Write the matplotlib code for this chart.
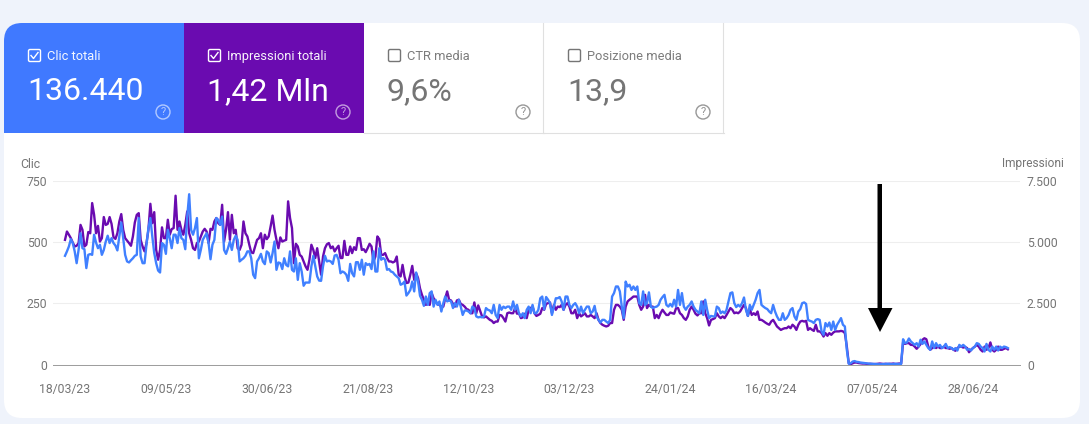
#! /usr/bin/env python
"""
Search Console performance chart: clicks and impressions per day.
"""

import matplotlib
matplotlib.use('Agg')
import matplotlib.pyplot as plt
import pandas as pd
from matplotlib.patches import FancyBboxPatch, Rectangle, Circle, Polygon

plt.rcParams['font.family'] = ['Roboto', 'DejaVu Sans']

# Values, one per day from the first date
first_date = '2023-03-18'

clicks = [
    443,461,481,511,495,461,413,467,535,474,470,393,447,450,447,529,497,474,488,447,
    467,501,525,495,515,495,485,465,522,579,515,447,420,416,425,433,443,447,597,440,
    413,413,488,556,597,522,454,413,383,375,495,488,451,549,515,474,529,529,495,556,
    515,508,470,603,694,549,529,556,597,433,467,508,522,535,495,429,488,508,597,590,
    569,603,467,451,474,501,467,508,525,508,420,427,433,443,461,461,433,366,352,420,
    433,451,420,409,461,454,416,454,501,386,416,413,389,433,406,400,461,386,379,433,
    345,413,379,321,334,334,334,400,443,400,359,342,341,400,443,420,423,420,410,444,
    447,427,372,379,375,366,341,410,372,359,417,417,
    386,427,366,413,406,410,389,461,379,379,474,427,434,427,386,389,379,376,366,359,
    352,325,329,338,281,291,304,338,298,375,338,280,264,239,277,243,291,298,236,264,243,
    257,216,250,277,257,261,257,230,250,236,264,236,202,220,220,216,209,236,230,196,
    192,194,192,196,230,223,220,209,243,202,189,243,223,236,230,236,236,223,257,223,243,
    209,196,209,189,223,236,209,243,209,209,223,270,277,225,275,264,250,202,236,270,270,
    275,257,223,277,277,243,230,243,250,236,209,236,209,223,236,236,209,216,239,196,
    182,171,182,182,175,169,182,277,291,318,318,298,236,189,338,318,325,304,318,304,318,
    250,243,298,243,250,294,236,230,234,236,243,264,275,284,243,236,247,236,264,236,304,
    243,291,236,223,236,243,257,236,223,216,209,257,202,264,223,189,198,196,196,236,230,
    209,216,209,223,257,291,294,250,234,243,236,250,273,223,198,243,223,243,264,291,
    304,243,236,230,226,216,209,243,216,196,182,182,209,182,189,202,223,230,196,182,216,
    226,250,253,247,182,178,175,169,182,185,182,135,121,169,155,171,141,175,141,162,175,
    189,162,155,60,3,5,12,14,11,10,8,
    7,6,5,4,3,3,2,2,1,1,1,2,2,3,2,1,2,3,2,2,2,
    103,87,90,106,94,87,80,87,73,101,84,94,80,67,60,94,67,87,73,80,
    67,73,84,67,71,67,60,67,57,80,73,80,73,60,63,57,67,73,87,84,
    73,67,53,84,60,53,73,60,73,57,73,67,73,71,67,
]

impressions = [
    5080,5420,5290,5150,4970,4810,4840,4950,5690,5490,4810,4880,5400,5350,6580,6100,5350,5650,5010,5150,
    6010,5690,5730,6010,5730,5190,5120,5350,5830,6130,5490,5150,5050,4950,4840,5220,5790,6100,6170,5080,
    4810,4610,4950,5490,6550,5760,6210,4670,4270,4670,5590,5150,5150,5900,5290,5520,5560,6880,5490,5830,
    5490,5290,5690,6240,5350,5080,4740,4670,4950,5010,5220,5420,5530,5420,4950,5530,5490,5830,5970,5760,
    5690,6510,5010,5490,6210,5080,6100,5350,5490,4740,4670,4880,5830,5350,5220,4880,4570,4540,4810,5080,
    5150,5350,4740,5290,5110,5220,5630,6070,5490,5080,4740,5180,5010,5050,5080,6650,5970,5560,4130,4920,
    4810,4470,4400,4200,4000,3860,4270,4880,4670,4340,4740,4200,3660,4400,4740,4900,4950,4740,4810,4610,
    4740,4840,4340,4340,5040,4470,4470,4810,4540,4780,4670,5150,
    5150,4670,4700,4580,4740,4920,4810,4200,4400,5220,5110,4470,4470,4540,4340,4200,4200,4160,4200,4400,
    3660,3590,4060,3590,3320,3340,3660,4020,3450,3720,3520,3100,2840,2640,2430,2500,2430,2910,2700,2570,2470,
    2430,2360,2360,2700,2980,2640,2610,2470,2360,2610,2640,2470,2430,2360,2260,2230,2090,2090,2530,2090,
    2410,2180,1960,1920,1960,1890,1820,1780,1690,1750,1750,2020,2000,1890,1750,2090,2120,2090,2090,2300,2070,
    2090,1890,1920,2070,1890,2230,2300,2360,2090,1980,2020,2070,2300,2230,2470,2500,2530,2090,2430,2230,2360,
    2340,2430,2230,2430,2500,2360,2090,2090,2230,1890,2090,1960,2020,2090,1960,1960,2020,1960,1890,2090,
    1820,1690,1620,1580,1550,1580,1690,1690,2230,2430,2430,2360,2230,1820,2360,2570,2640,2700,2770,2770,2770,
    2430,2230,2360,2840,2300,2430,2360,2360,1890,2020,1890,2090,2230,2120,2020,2020,2120,2090,2070,2300,2300,
    2090,2020,1890,1820,1960,2230,2360,2230,2070,2000,2090,2090,2570,2090,1890,1590,1820,1850,1890,2090,1960,
    1890,1960,1890,2020,2160,2300,2230,2090,2120,2090,2160,2300,2430,2300,1980,2260,2020,2090,2020,2160,
    1820,1820,1770,1710,1660,1620,1750,1820,1690,1550,1480,1410,1450,1480,1480,1550,1480,1620,1550,1410,1620,
    1750,1780,1750,1780,1410,1480,1420,1370,1620,1350,1350,1280,1140,1280,1170,1280,1210,1300,1350,1350,1350,
    1370,1350,1280,730,50,10,50,80,
    80,60,50,40,40,30,20,30,20,20,20,30,40,30,20,30,20,30,30,40,20,30,40,40,
    900,840,870,870,800,800,730,640,730,830,1010,1070,1030,730,600,670,730,670,730,670,
    670,730,670,670,640,670,600,560,670,730,730,690,710,670,500,600,670,730,800,730,
    600,530,730,600,670,900,600,530,600,730,600,600,640,670,620,
]

tick_dates = ['18/03/23', '09/05/23', '30/06/23', '21/08/23', '12/10/23',
              '03/12/23', '24/01/24', '16/03/24', '07/05/24', '28/06/24']
clicks_ticks = [0, 250, 500, 750]
impressions_ticks = [0, 2500, 5000, 7500]
impressions_tick_labels = ['0', '2.500', '5.000', '7.500']

# (label, value, filled colour or None, left edge)
tiles = [('Clic totali', '136.440', '#4079ff', 4),
         ('Impressioni totali', '1,42 Mln', '#6a0bb0', 184),
         ('CTR media', '9,6%', None, 364),
         ('Posizione media', '13,9', None, 544)]

W, H = 1089, 424
BLUE = '#4080ff'
PURPLE = '#6a0bb0'
GREY = '#757575'

fig = plt.figure(figsize=(W/100, H/100), dpi=100, facecolor='#eff3fb')

# Background layer, in pixel coordinates
bg = fig.add_axes([0, 0, 1, 1], zorder=0)
bg.set_xlim(0, W)
bg.set_ylim(H, 0)
bg.axis('off')

card = FancyBboxPatch((4+18, 23+18), 1076-36, 395-36, boxstyle='round,pad=18,rounding_size=18',
                      fc='white', ec='none')
bg.add_patch(card)

for label, value, color, x0 in tiles:
    fg = 'white' if color else GREY
    if color:
        r = Rectangle((x0, 23), 180, 110, fc=color, ec='none')
        bg.add_patch(r)
        r.set_clip_path(card)
    else:
        bg.plot([x0+179, x0+179], [23, 132.5], color='#e0e0e0', lw=0.8)
        bg.plot([x0, x0+180], [132.5, 132.5], color='#e0e0e0', lw=0.8)
    # checkbox
    bg.add_patch(FancyBboxPatch((x0+24.5, 49.5), 12, 12, boxstyle='round,pad=0,rounding_size=1.5',
                                fc='none', ec=fg, lw=1))
    if color:
        bg.plot([x0+27, x0+29.5, x0+34], [55.5, 58.5, 52.5], color=fg, lw=1)
    bg.text(x0+43, 56.5, label, color=fg, fontsize=9.3, va='center', ha='left', alpha=0.95)
    bg.text(x0+23, 100, value, color=fg, fontsize=23, va='baseline', ha='left')
    # help icon
    bg.add_patch(Circle((x0+159, 112), 7, fc='none', ec=fg, lw=1, alpha=0.6 if color else 0.75))
    bg.text(x0+159, 112.3, '?', color=fg, fontsize=8, ha='center', va='center', alpha=0.6 if color else 0.8)

bg.text(20, 164, 'Clic', color=GREY, fontsize=8.8, va='center', ha='left')
bg.text(1064, 164, 'Impressioni', color=GREY, fontsize=8.6, va='center', ha='right')

# Chart: impressions underneath on the right scale, clicks over them on the left scale
start = pd.Timestamp(first_date)
x_left = start + pd.Timedelta(days=(53-65)/1.94)
x_right = start + pd.Timedelta(days=(1020-65)/1.94)

ax_i = fig.add_axes([53/W, 1-364.5/H, (1020-53)/W, 184/H], zorder=1)
ax_i.patch.set_alpha(0)
ax_c = ax_i.twinx()

ax_i.plot(pd.date_range(start, periods=len(impressions)), impressions, color=PURPLE, lw=1.7)
ax_c.plot(pd.date_range(start, periods=len(clicks)), clicks, color=BLUE, lw=1.7)

ax_i.set_xlim(x_left, x_right)
ax_i.set_ylim(0, 7500)
ax_c.set_ylim(0, 750)

ax_i.yaxis.tick_right()
ax_i.set_yticks(impressions_ticks)
ax_i.set_yticklabels(impressions_tick_labels, color=GREY, fontsize=8.8)
ax_c.yaxis.tick_left()
ax_c.set_yticks(clicks_ticks)
ax_c.set_yticklabels([str(t) for t in clicks_ticks], color=GREY, fontsize=8.8)
ax_i.set_xticks(pd.to_datetime(tick_dates, format='%d/%m/%y'))
ax_i.set_xticklabels(tick_dates, color=GREY, fontsize=8.8)

ax_i.tick_params(axis='x', length=0, pad=13)
ax_i.tick_params(axis='y', length=0, pad=5)
ax_c.tick_params(axis='y', length=0, pad=4)
ax_i.grid(axis='y', color='#eeeeee', lw=0.8)
ax_i.set_axisbelow(True)
for ax in (ax_i, ax_c):
    for side in ('top', 'left', 'right'):
        ax.spines[side].set_visible(False)
    ax.spines['bottom'].set_color('#9e9e9e')
    ax.spines['bottom'].set_linewidth(0.7)

# Black arrow drawn on top of the screenshot
top = fig.add_axes([0, 0, 1, 1], zorder=5)
top.set_xlim(0, W)
top.set_ylim(H, 0)
top.axis('off')
top.add_patch(Polygon([(877.5, 184), (882, 184), (882, 308), (892.5, 308), (880, 332),
                       (868, 308), (877.5, 308)], closed=True, fc='black', ec='none'))

fig.savefig('out.png', dpi=100, facecolor=fig.get_facecolor())
